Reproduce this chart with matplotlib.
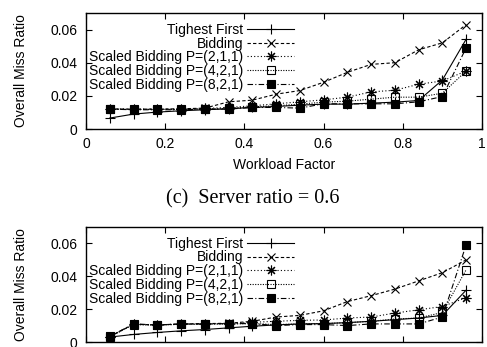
import matplotlib
matplotlib.use("Agg")
import matplotlib.pyplot as plt

plt.rcParams['font.family'] = ['Liberation Sans', 'DejaVu Sans']

# Workload factor sample points
workload = [0.06, 0.12, 0.18, 0.24, 0.30, 0.36, 0.42, 0.48,
            0.54, 0.60, 0.66, 0.72, 0.78, 0.84, 0.90, 0.96]

series_names = ["Tighest First", "Bidding", "Scaled Bidding P=(2,1,1)",
                "Scaled Bidding P=(4,2,1)", "Scaled Bidding P=(8,2,1)"]

# Server ratio = 0.6
tf_top = [0.0066, 0.0090, 0.0102, 0.0110, 0.0116, 0.0122, 0.0130, 0.0136,
          0.0144, 0.0150, 0.0150, 0.0156, 0.0162, 0.0172, 0.0296, 0.0542]
bid_top = [0.0120, 0.0120, 0.0120, 0.0122, 0.0126, 0.0164, 0.0174, 0.0210,
           0.0232, 0.0282, 0.0342, 0.0390, 0.0400, 0.0478, 0.0520, 0.0630]
s211_top = [0.0122, 0.0120, 0.0120, 0.0120, 0.0124, 0.0130, 0.0140, 0.0152,
            0.0164, 0.0176, 0.0192, 0.0224, 0.0234, 0.0270, 0.0290, 0.0350]
s421_top = [0.0120, 0.0118, 0.0118, 0.0118, 0.0120, 0.0124, 0.0134, 0.0140,
            0.0150, 0.0162, 0.0168, 0.0180, 0.0192, 0.0192, 0.0216, 0.0350]
s821_top = [0.0120, 0.0116, 0.0116, 0.0116, 0.0120, 0.0120, 0.0130, 0.0130,
            0.0126, 0.0152, 0.0152, 0.0152, 0.0152, 0.0164, 0.0196, 0.0490]

# Next server ratio
tf_bot = [0.0030, 0.0046, 0.0058, 0.0068, 0.0076, 0.0086, 0.0096, 0.0104,
          0.0110, 0.0112, 0.0118, 0.0126, 0.0136, 0.0146, 0.0162, 0.0316]
bid_bot = [0.0034, 0.0108, 0.0104, 0.0110, 0.0112, 0.0114, 0.0126, 0.0152,
           0.0162, 0.0190, 0.0246, 0.0282, 0.0322, 0.0372, 0.0422, 0.0500]
s211_bot = [0.0032, 0.0108, 0.0104, 0.0108, 0.0110, 0.0112, 0.0120, 0.0126,
            0.0132, 0.0134, 0.0146, 0.0152, 0.0176, 0.0196, 0.0216, 0.0270]
s421_bot = [0.0032, 0.0106, 0.0102, 0.0108, 0.0108, 0.0110, 0.0112, 0.0106,
            0.0110, 0.0112, 0.0118, 0.0126, 0.0140, 0.0146, 0.0180, 0.0440]
s821_bot = [0.0034, 0.0110, 0.0104, 0.0110, 0.0110, 0.0112, 0.0112, 0.0100,
            0.0106, 0.0106, 0.0100, 0.0110, 0.0110, 0.0110, 0.0152, 0.0592]

x_ticks = [0, 0.2, 0.4, 0.6, 0.8, 1.0]
x_tick_labels = ["0", "0.2", "0.4", "0.6", "0.8", "1"]
y_ticks = [0, 0.02, 0.04, 0.06]
y_tick_labels = ["0", "0.02", "0.04", "0.06"]

styles = [
    dict(linestyle="-", marker="+", ms=7, mfc="black"),
    dict(linestyle=(0, (3, 2)), marker="x", ms=6, mfc="black"),
    dict(linestyle=(0, (1, 2)), marker=(8, 2, 0), ms=7, mfc="black"),
    dict(linestyle=(0, (1, 1.3)), marker="s", ms=6, mfc="none"),
    dict(linestyle=(0, (5, 2, 1, 2)), marker="s", ms=6, mfc="black"),
]

W, H = 487, 347
fig = plt.figure(figsize=(W / 100, H / 100), dpi=100)


def panel(top_px, bottom_px, data, show_x_labels=True):
    ax = fig.add_axes([86 / W, 1 - bottom_px / H, 396 / W, (bottom_px - top_px) / H])
    for name, ys, st in zip(series_names, data, styles):
        ax.plot(workload, ys, color="black", lw=0.8, mec="black", mew=0.8,
                label=name, **st)
    ax.set_xlim(0, 1)
    ax.set_ylim(0, 0.07)
    ax.set_xticks(x_ticks)
    ax.set_yticks(y_ticks)
    ax.set_yticklabels(y_tick_labels)
    ax.tick_params(direction="in", length=4, width=0.8, top=True, right=True,
                   labelsize=10, pad=6, colors="black")
    if show_x_labels:
        ax.set_xticklabels(x_tick_labels)
        ax.set_xlabel("Workload Factor", fontsize=10, labelpad=5)
    else:
        ax.tick_params(axis="x", labelbottom=False)
    for s in ax.spines.values():
        s.set_linewidth(1.0)
    ax.set_ylabel("Overall Miss Ratio", fontsize=10, labelpad=16)
    ax.legend(loc="upper right", bbox_to_anchor=(0.526, 0.915), frameon=False,
              markerfirst=False, fontsize=10, handlelength=3.4,
              handletextpad=0.25, labelspacing=-0.02, borderpad=0,
              borderaxespad=0)
    return ax


panel(13, 129, [tf_top, bid_top, s211_top, s421_top, s821_top])
panel(227, 342, [tf_bot, bid_bot, s211_bot, s421_bot, s821_bot],
      show_x_labels=False)

fig.text(253 / W, 1 - 199 / H, "(c)  Server ratio = 0.6",
         family=["Liberation Serif", "DejaVu Serif"], fontsize=14.5,
         ha="center", va="center")

fig.savefig("out.png", dpi=100)
